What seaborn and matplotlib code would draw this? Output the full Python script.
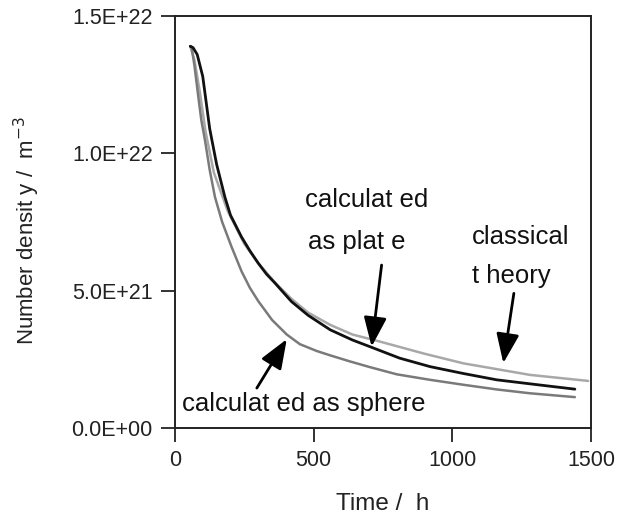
import matplotlib
matplotlib.use("Agg")
import matplotlib.pyplot as plt
import seaborn as sns

# Data (time in h, number density in units of 1E21 m^-3)
plate_t = [55, 65, 80, 100, 125, 150, 180, 200, 240, 270, 300, 330, 360, 420, 480, 560, 640, 710, 810, 920, 1040, 1160, 1300, 1442]
plate_v = [13.9, 13.85, 13.6, 12.8, 10.9, 9.6, 8.4, 7.75, 6.95, 6.45, 6.0, 5.6, 5.28, 4.6, 4.1, 3.57, 3.2, 2.93, 2.54, 2.23, 1.98, 1.75, 1.58, 1.41]

classical_t = [55, 70, 90, 110, 140, 190, 250, 300, 360, 420, 480, 560, 640, 740, 900, 1040, 1280, 1490]
classical_v = [13.9, 13.4, 12.2, 10.8, 9.3, 7.9, 6.7, 6.0, 5.3, 4.7, 4.2, 3.75, 3.4, 3.14, 2.7, 2.35, 1.93, 1.71]

sphere_t = [55, 60, 70, 84, 95, 108, 125, 144, 170, 204, 240, 270, 300, 350, 403, 450, 511, 560, 631, 700, 800, 920, 1040, 1160, 1280, 1442]
sphere_v = [13.9, 13.85, 13.2, 12.06, 11.2, 10.48, 9.4, 8.41, 7.5, 6.59, 5.7, 5.1, 4.62, 3.93, 3.4, 3.05, 2.8, 2.64, 2.42, 2.22, 1.95, 1.75, 1.57, 1.4, 1.26, 1.12]

x_ticks = [0, 500, 1000, 1500]
y_ticks = [0, 5, 10, 15]
y_tick_labels = ["0.0E+00", "5.0E+21", "1.0E+22", "1.5E+22"]

sns.set_style("ticks")
plt.rcParams["font.family"] = ["Liberation Sans", "DejaVu Sans"]

fig = plt.figure(figsize=(6.28, 5.18), dpi=100)
ax = fig.add_axes([0.2787, 0.174, 0.941 - 0.2787, 0.969 - 0.174])

sns.lineplot(x=classical_t, y=classical_v, color="#a8a8a8", lw=1.8, ax=ax, sort=False, estimator=None)
sns.lineplot(x=sphere_t, y=sphere_v, color="#7a7a7a", lw=1.8, ax=ax, sort=False, estimator=None)
sns.lineplot(x=plate_t, y=plate_v, color="#111111", lw=2.0, ax=ax, sort=False, estimator=None)

ax.set_xlim(0, 1500)
ax.set_ylim(0, 15)
ax.set_xticks(x_ticks)
ax.set_xticklabels([str(v) for v in x_ticks])
ax.set_yticks(y_ticks)
ax.set_yticklabels(y_tick_labels)
ax.tick_params(direction="out", length=10, width=1.3, labelsize=15.5, colors="#222222", pad=6)
for s in ax.spines.values():
    s.set_linewidth(1.4)
    s.set_color("#222222")

ax.set_xlabel("Time /  h", fontsize=17.5, labelpad=16, color="#222222")
ax.set_ylabel("Number densit y /  m$^{-3}$", fontsize=16, color="#222222")
ax.yaxis.set_label_coords(-0.32, 0.48)

tk = dict(fontsize=18.5, color="#111111", va="center", ha="left")
ax.text(469, 8.3, "calculat ed", **tk)
ax.text(480, 6.78, "as plat e", **tk)
ax.text(1071, 6.95, "classical", **tk)
ax.text(1071, 5.53, "t heory", **tk)
ax.text(25, 0.87, "calculat ed as sphere", **tk)

ap = dict(arrowstyle="-|>,head_length=0.9,head_width=0.35", color="black", lw=2, mutation_scale=20, shrinkA=0, shrinkB=0)
ax.annotate("", xy=(709, 2.96), xytext=(745, 5.93), arrowprops=ap)
ax.annotate("", xy=(1184, 2.36), xytext=(1222, 4.9), arrowprops=ap)
ax.annotate("", xy=(403, 3.23), xytext=(295, 1.45), arrowprops=ap)

fig.savefig("out.png", dpi=100)
